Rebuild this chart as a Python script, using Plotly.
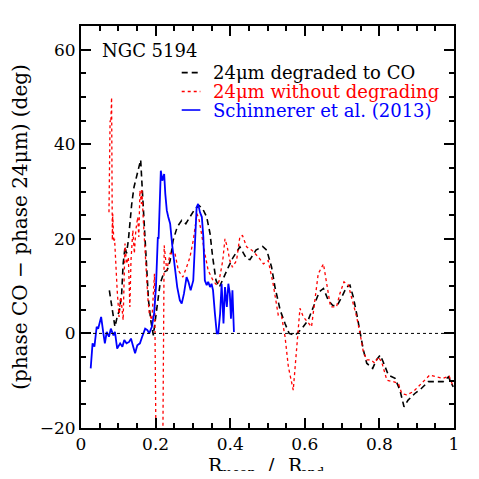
import plotly.graph_objects as go

# NGC 5194: phase offset CO vs 24um

# 24um degraded to CO (black dashed)
r_degraded = [0.076, 0.080, 0.084, 0.091, 0.097, 0.103, 0.109, 0.113, 0.118, 0.122,
              0.127, 0.131, 0.136, 0.142, 0.149, 0.155, 0.160, 0.163, 0.167, 0.172,
              0.176, 0.181, 0.187, 0.194, 0.198, 0.205, 0.212, 0.223, 0.231, 0.239,
              0.247, 0.258, 0.270, 0.281, 0.292, 0.306, 0.317, 0.326, 0.337, 0.346,
              0.353, 0.362, 0.371, 0.382, 0.395, 0.408, 0.426, 0.444, 0.453, 0.469,
              0.487, 0.498, 0.511, 0.520, 0.534, 0.547, 0.558, 0.574, 0.592, 0.609,
              0.623, 0.639, 0.650, 0.663, 0.675, 0.687, 0.699, 0.712, 0.721, 0.730,
              0.739, 0.748, 0.757, 0.766, 0.782, 0.792, 0.802, 0.810, 0.824, 0.842,
              0.855, 0.866, 0.877, 0.895, 0.913, 0.931, 0.954, 0.971, 0.985, 0.998]
d_degraded = [9.1, 7.0, 4.9, 1.4, 3.5, 4.9, 8.4, 14.7, 18.3, 16.9,
              19.7, 23.9, 27.4, 30.9, 33.0, 35.1, 36.7, 32.3, 26.7, 21.1,
              14.0, 7.0, 2.8, -0.4, 2.1, 7.0, 10.5, 13.0, 13.3, 15.4,
              19.7, 22.5, 23.9, 23.2, 24.6, 26.4, 27.0, 26.4, 24.6, 21.1,
              16.1, 11.2, 9.8, 11.9, 14.0, 16.1, 18.3, 15.8, 15.6, 17.6,
              18.4, 17.6, 14.0, 9.8, 4.9, 2.1, 0.0, -0.4, 1.0, 2.8,
              5.6, 8.8, 9.5, 7.0, 5.9, 5.9, 7.7, 9.8, 10.2, 7.7,
              4.2, 0.0, -3.5, -6.3, -7.4, -5.6, -4.6, -6.0, -8.8, -9.5,
              -12.0, -15.5, -14.1, -12.7, -11.6, -10.2, -10.2, -10.2, -9.2, -11.3]

# 24um without degrading (red dotted)
r_native = [0.075, 0.078, 0.080, 0.082, 0.084, 0.085, 0.088, 0.090, 0.097, 0.102,
            0.105, 0.107, 0.113, 0.118, 0.122, 0.127, 0.131, 0.134, 0.139, 0.143,
            0.147, 0.152, 0.155, 0.158, 0.162, 0.163, 0.167, 0.172, 0.179, 0.183,
            0.190, 0.197, 0.203, 0.210, 0.218, 0.223, 0.230, 0.239, 0.252, 0.261,
            0.273, 0.283, 0.292, 0.301, 0.308, 0.311, 0.317, 0.324, 0.332, 0.341,
            0.354, 0.364, 0.370, 0.380, 0.386, 0.392, 0.399, 0.406, 0.417, 0.426,
            0.433, 0.444, 0.458, 0.476, 0.489, 0.502, 0.515, 0.529, 0.538, 0.547,
            0.556, 0.569, 0.578, 0.587, 0.596, 0.609, 0.618, 0.627, 0.636, 0.650,
            0.659, 0.669, 0.685, 0.694, 0.705, 0.717, 0.725, 0.739, 0.748, 0.757,
            0.766, 0.777, 0.788, 0.797, 0.806, 0.820, 0.837, 0.851, 0.860, 0.873,
            0.891, 0.913, 0.935, 0.954, 0.971, 0.987, 0.998]
d_native = [25.6, 45.0, 44.6, 49.9, 19.7, 25.3, 19.3, 20.0, 9.1, 3.5,
            7.0, 7.7, 2.8, 19.0, 14.7, 16.1, 5.6, 15.4, 21.8, 16.9,
            21.8, 24.6, 20.4, 30.2, 27.4, 30.6, 24.0, 16.0, 7.7, 4.2,
            2.8, 12.6, -40.0, -40.0, -40.0, 18.6, 13.3, 16.9, 16.9, 13.3,
            11.9, 14.0, 16.1, 19.7, 24.6, 25.3, 23.9, 20.4, 16.9, 13.3,
            11.2, 10.2, 11.0, 15.4, 20.0, 18.3, 15.4, 14.0, 15.4, 20.5,
            20.7, 18.3, 17.6, 16.1, 14.7, 15.4, 10.5, 3.8, 3.5, -0.7,
            -7.1, -12.0, -2.8, 5.3, 3.5, 2.1, 1.4, 7.0, 12.6, 14.7,
            10.5, 5.6, 5.6, 8.4, 10.9, 10.2, 7.7, 3.5, 0.0, -3.9,
            -5.6, -5.6, -6.3, -5.0, -6.0, -9.9, -10.2, -10.6, -12.7, -13.0,
            -12.3, -10.6, -8.8, -9.2, -9.5, -9.0, -11.3]

# Schinnerer et al. (2013) (blue solid)
r_schin = [0.026, 0.031, 0.036, 0.042, 0.046, 0.054, 0.060, 0.064, 0.069, 0.075,
           0.080, 0.087, 0.091, 0.097, 0.105, 0.111, 0.116, 0.122, 0.129, 0.134,
           0.140, 0.145, 0.151, 0.158, 0.164, 0.172, 0.178, 0.183, 0.190, 0.196,
           0.201, 0.206, 0.208, 0.214, 0.218, 0.223, 0.226, 0.230, 0.234, 0.239,
           0.245, 0.252, 0.258, 0.265, 0.270, 0.276, 0.283, 0.288, 0.294, 0.301,
           0.306, 0.310, 0.314, 0.319, 0.324, 0.328, 0.332, 0.337, 0.341, 0.346,
           0.350, 0.354, 0.359, 0.364, 0.368, 0.373, 0.377, 0.382, 0.386, 0.391,
           0.395, 0.399, 0.402, 0.406, 0.410]
d_schin = [-7.4, -2.1, -2.8, 1.4, 1.0, 3.5, 0.0, -2.1, 0.3, -0.7,
           1.0, -0.4, 0.3, -3.2, -2.1, -2.8, -1.4, -2.1, -1.8, -1.1,
           -2.8, -4.2, -2.5, -2.1, -0.7, 1.0, 0.7, 0.0, 1.4, 4.2,
           9.8, 20.4, 20.0, 34.4, 32.3, 33.7, 29.5, 26.0, 24.6, 23.2,
           18.3, 14.0, 9.8, 7.0, 6.3, 8.4, 11.9, 10.9, 9.1, 11.2,
           18.3, 26.7, 27.4, 25.6, 24.6, 20.4, 11.2, 10.2, 10.9, 9.8,
           10.5, 9.1, 4.2, 0.0, 0.0, 4.2, 10.5, 2.1, 9.8, 5.6,
           10.5, 8.4, 3.1, 9.1, 0.3]

x_ticks = [0, 0.2, 0.4, 0.6, 0.8, 1]
x_labels = ["0", "0.2", "0.4", "0.6", "0.8", "1"]
y_ticks = [-20, 0, 20, 40, 60]

# plain text only (no <i>/<sub> markup, which did not render here)
legend_labels = ["24μm degraded to CO", "24μm without degrading", "Schinnerer et al. (2013)"]
legend_colors = ["black", "red", "blue"]
legend_dashes = ["6px,4px", "dot", "solid"]

SERIF = "DejaVu Serif"

fig = go.Figure()

series = [(r_degraded, d_degraded, 1.6), (r_native, d_native, 1.3), (r_schin, d_schin, 1.8)]
for (xs, ys, lw), name, col, dash in zip(series, legend_labels, legend_colors, legend_dashes):
    fig.add_trace(go.Scatter(x=xs, y=ys, mode="lines", name=name,
                             line=dict(color=col, width=lw, dash=dash)))

# zero reference line
fig.add_hline(y=0, line=dict(color="black", width=1, dash="dot"))

fig.add_annotation(text="NGC 5194", xref="paper", yref="paper", x=0.05, y=0.94,
                   xanchor="left", yanchor="middle", showarrow=False,
                   font=dict(family=SERIF, size=18, color="black"))

# legend drawn by hand to keep the tight row spacing and coloured labels
legend_rows = [0.884, 0.837, 0.791]
for name, col, dash, yr in zip(legend_labels, legend_colors, legend_dashes, legend_rows):
    fig.add_shape(type="line", xref="paper", yref="paper", x0=0.27, x1=0.32, y0=yr, y1=yr,
                  line=dict(color=col, width=1.6, dash=dash))
    fig.add_annotation(text=name, xref="paper", yref="paper", x=0.348, y=yr,
                       xanchor="left", yanchor="middle", showarrow=False,
                       font=dict(family=SERIF, size=18, color=col))

# x title "R_mean / R_end" built from pieces so the subscripts need no markup
title_parts = [("R", 0.336, -0.092, 19), ("mean", 0.368, -0.110, 13),
               ("/", 0.497, -0.092, 19), ("R", 0.550, -0.092, 19),
               ("end", 0.582, -0.110, 13)]
for txt, px, py, fs in title_parts:
    fig.add_annotation(text=txt, xref="paper", yref="paper", x=px, y=py,
                       xanchor="left", yanchor="middle", showarrow=False,
                       font=dict(family=SERIF, size=fs, color="black"))

axis_common = dict(
    showline=True, linecolor="black", linewidth=2, mirror="ticks",
    ticks="inside", ticklen=10, tickwidth=1.5, tickcolor="black",
    showgrid=False, zeroline=False, automargin=False,
    tickfont=dict(family=SERIF, size=17, color="black"),
)

fig.update_xaxes(range=[0, 1], tickvals=x_ticks, ticktext=x_labels,
                 minor=dict(dtick=0.05, ticks="inside", ticklen=5, tickwidth=1.5,
                            tickcolor="black"),
                 **axis_common)
fig.update_yaxes(range=[-20, 65], tickvals=y_ticks,
                 minor=dict(dtick=5, ticks="inside", ticklen=5, tickwidth=1.5,
                            tickcolor="black"),
                 title=dict(text="(phase CO − phase 24μm) (deg)",
                            font=dict(family=SERIF, size=20, color="black")),
                 **axis_common)

# page body has an 8px margin, so the figure is shrunk and shifted to match
fig.update_layout(
    width=463, height=463,
    margin=dict(l=73, r=17, t=18, b=43),
    paper_bgcolor="white", plot_bgcolor="white",
    showlegend=False,
)

fig.write_html("out.html")
